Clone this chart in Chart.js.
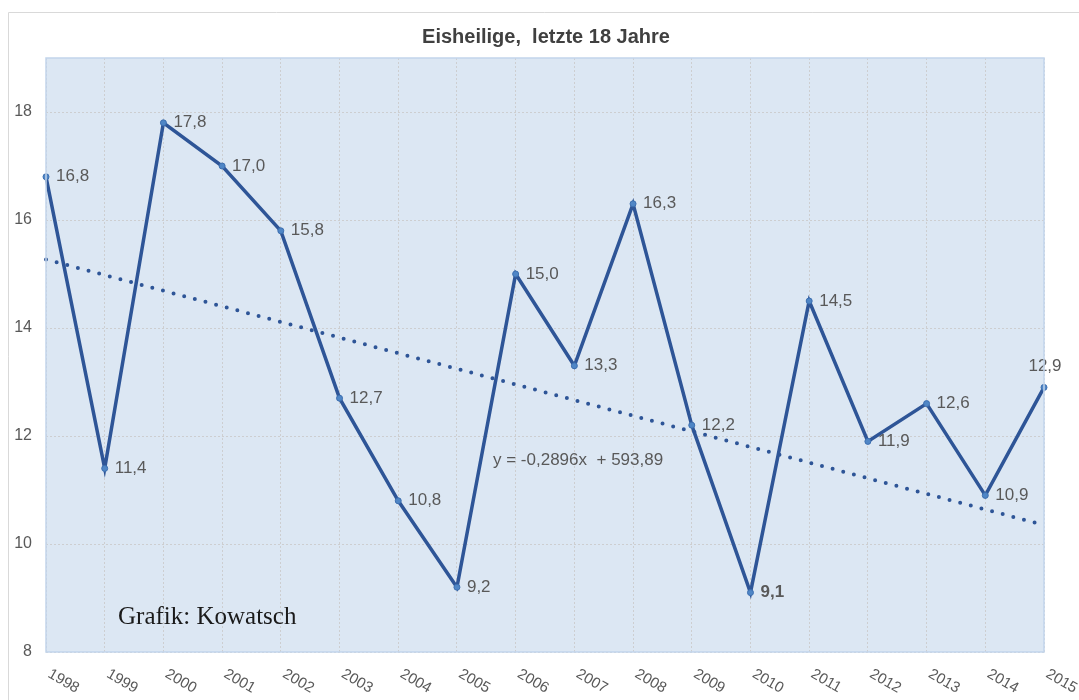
<!doctype html>
<html lang="de">
  <head>
    <meta charset="utf-8">
    <title>Eisheilige</title>
    <style>
      * { margin: 0; padding: 0; }
      body { background: #fff; }
      .chartBox { width: 1079px; height: 700px; }
    </style>
  </head>
  <body>
    <div class="chartBox">
      <canvas id="myChart" width="1079" height="700"></canvas>
    </div>
    <script src="https://cdn.jsdelivr.net/npm/chart.js"></script>
    <script>
    // data
    const years = ['1998','1999','2000','2001','2002','2003','2004','2005','2006',
                   '2007','2008','2009','2010','2011','2012','2013','2014','2015'];
    const temps = [16.8, 11.4, 17.8, 17.0, 15.8, 12.7, 10.8, 9.2, 15.0,
                   13.3, 16.3, 12.2, 9.1, 14.5, 11.9, 12.6, 10.9, 12.9];
    // linear trend, only the two end values
    const trend = [15.27, null, null, null, null, null, null, null, null,
                   null, null, null, null, null, null, null, null, 10.35];
    const yTicks = [8, 10, 12, 14, 16, 18];
    const titleText = 'Eisheilige,  letzte 18 Jahre';
    const equationText = 'y = -0,2896x  + 593,89';
    const creditText = 'Grafik: Kowatsch';

    const fontSans = '"Liberation Sans", Arial, sans-serif';

    // background, frame, texts
    const decor = {
      id: 'decor',
      beforeDraw(chart) {
        const ctx = chart.ctx;
        const a = chart.chartArea;
        ctx.save();
        ctx.strokeStyle = '#d9d9d9';
        ctx.lineWidth = 1;
        ctx.beginPath();
        ctx.moveTo(8.5, 710);
        ctx.lineTo(8.5, 12.5);
        ctx.lineTo(1090, 12.5);
        ctx.stroke();
        ctx.fillStyle = '#dce7f3';
        ctx.fillRect(a.left, a.top, a.right - a.left, a.bottom - a.top);
        ctx.restore();
      },
      afterDraw(chart) {
        const ctx = chart.ctx;
        const a = chart.chartArea;
        const x = chart.scales.x;
        ctx.save();
        ctx.strokeStyle = '#c2d5ec';
        ctx.lineWidth = 1.5;
        ctx.strokeRect(a.left, a.top, a.right - a.left, a.bottom - a.top);

        ctx.fillStyle = '#404040';
        ctx.font = 'bold 20px ' + fontSans;
        ctx.textAlign = 'center';
        ctx.textBaseline = 'middle';
        ctx.fillText(titleText, 546, 37);

        // rotated year labels
        ctx.font = '15px ' + fontSans;
        ctx.fillStyle = '#595959';
        ctx.textAlign = 'left';
        years.forEach((y, i) => {
          const px = x.getPixelForValue(i);
          ctx.save();
          ctx.translate(px + 3, a.bottom + 21);
          ctx.rotate(30 * Math.PI / 180);
          ctx.fillText(y, 0, 0);
          ctx.restore();
        });

        ctx.font = '17px ' + fontSans;
        ctx.fillStyle = '#595959';
        ctx.fillText(equationText, 493, 460);

        ctx.font = '25px "Liberation Serif", "Times New Roman", serif';
        ctx.fillStyle = '#1a1a1a';
        ctx.fillText(creditText, 118, 617);
        ctx.restore();
      },
      afterDatasetsDraw(chart) {
        const ctx = chart.ctx;
        const meta = chart.getDatasetMeta(0);
        ctx.save();
        ctx.fillStyle = '#595959';
        ctx.textBaseline = 'middle';
        meta.data.forEach((pt, i) => {
          const txt = temps[i].toFixed(1).replace('.', ',');
          const last = i === temps.length - 1;
          ctx.font = (years[i] === '2010' ? 'bold ' : '') + '17px ' + fontSans;
          if (last) {
            ctx.textAlign = 'center';
            ctx.fillText(txt, pt.x + 1, pt.y - 21);
          } else {
            ctx.textAlign = 'left';
            ctx.fillText(txt, pt.x + 10, pt.y);
          }
        });
        ctx.restore();
      }
    };

    const data = {
      labels: years,
      datasets: [{
        label: 'Temperatur',
        data: temps,
        borderColor: '#2e5597',
        borderWidth: 3.5,
        pointRadius: 3,
        pointBackgroundColor: '#4f86c6',
        pointBorderColor: '#3d6fb0',
        pointBorderWidth: 1,
        tension: 0,
        order: 0
      }, {
        label: 'Trend',
        data: trend,
        spanGaps: true,
        borderColor: '#2e5597',
        borderWidth: 4,
        borderDash: [0, 11],
        borderCapStyle: 'round',
        pointRadius: 0,
        order: 1
      }]
    };

    const config = {
      type: 'line',
      data,
      plugins: [decor],
      options: {
        responsive: false,
        animation: false,
        layout: { padding: { left: 0, top: 58, right: 35, bottom: 0 } },
        plugins: {
          legend: { display: false },
          tooltip: { enabled: false }
        },
        scales: {
          x: {
            offset: false,
            grid: {
              color: 'rgba(195,190,185,0.6)',
              drawTicks: false
            },
            border: { display: false, dash: [2, 2] },
            ticks: { display: false },
            afterFit(s) { s.height = 48; }
          },
          y: {
            min: 8,
            max: 19,
            afterBuildTicks(s) { s.ticks = yTicks.map(v => ({ value: v })); },
            grid: {
              color: 'rgba(195,190,185,0.6)',
              drawTicks: false
            },
            border: { display: false, dash: [2, 2] },
            ticks: {
              color: '#595959',
              font: { family: fontSans, size: 16 },
              padding: 14
            },
            afterFit(s) { s.width = 46; }
          }
        }
      }
    };

    const myChart = new Chart(document.getElementById('myChart'), config);
    </script>
  </body>
</html>
